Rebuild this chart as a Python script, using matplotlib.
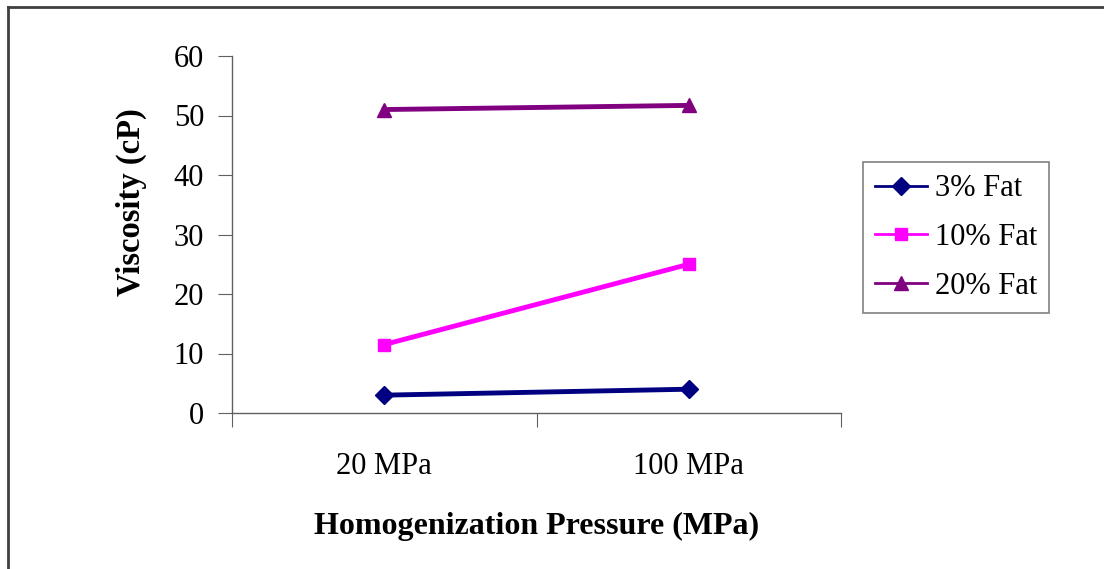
import numpy as np
import matplotlib.pyplot as plt
from matplotlib.lines import Line2D

plt.rcParams['font.family'] = ['Liberation Serif', 'DejaVu Serif']

pressures = ['20 MPa', '100 MPa']
fat_3 = [3.0, 4.0]
fat_10 = [11.5, 25.0]
fat_20 = [51.0, 51.7]
series_names = ['3% Fat', '10% Fat', '20% Fat']
yticks = [0, 10, 20, 30, 40, 50, 60]

fig = plt.figure(figsize=(11.04, 5.69), dpi=100)
ax = fig.add_axes([232/1104, 1 - 413/569, 609/1104, 357/569])

x = np.arange(len(pressures))
ax.plot(x, fat_3, color='#000080', lw=3.5, marker='D', ms=9, label=series_names[0])
ax.plot(x, fat_10, color='#FF00FF', lw=3.5, marker='s', ms=8, label=series_names[1])
ax.plot(x, fat_20, color='#800080', lw=3.5, marker='^', ms=10, label=series_names[2])

ax.set_xlim(-0.5, 1.5)
ax.set_ylim(0, 60)
ax.set_yticks(yticks)
ax.set_xticks([-0.5, 0.5, 1.5])
ax.set_xticklabels([])
ax.set_xticks(x, minor=True)
ax.set_xticklabels(pressures, minor=True)
ax.tick_params(axis='x', which='minor', length=0, pad=28, labelsize=22)
ax.tick_params(axis='x', which='major', direction='out', length=10, color='#606060')
ax.tick_params(axis='y', direction='out', length=10, color='#606060', labelsize=22, pad=10)

for side in ['top', 'right']:
    ax.spines[side].set_visible(False)
for side in ['left', 'bottom']:
    ax.spines[side].set_color('#606060')
    ax.spines[side].set_linewidth(1)

ax.set_ylabel('Viscosity (cP)', fontsize=23.5, fontweight='bold')
ax.yaxis.set_label_coords(-0.14, 0.59)
ax.set_xlabel('Homogenization Pressure (MPa)', fontsize=23, fontweight='bold', labelpad=22)

leg = ax.legend(loc='upper left', bbox_to_anchor=(863/1104, 1 - 162/569),
                bbox_transform=fig.transFigure, fontsize=22, frameon=True,
                fancybox=False, handlelength=1.7, handletextpad=0.25,
                borderpad=0.4, labelspacing=0.65, borderaxespad=0)
leg.get_frame().set_edgecolor('#606060')
leg.get_frame().set_linewidth(1.2)
for h in leg.get_lines():
    h.set_linewidth(2)

# outer chart frame (only top and left edges fall inside the canvas)
fig.add_artist(Line2D([8/1104, 1], [1 - 7/569, 1 - 7/569], color='#404040', lw=2))
fig.add_artist(Line2D([8/1104, 8/1104], [0, 1 - 7/569], color='#404040', lw=2))

fig.savefig('out.png', dpi=100)
